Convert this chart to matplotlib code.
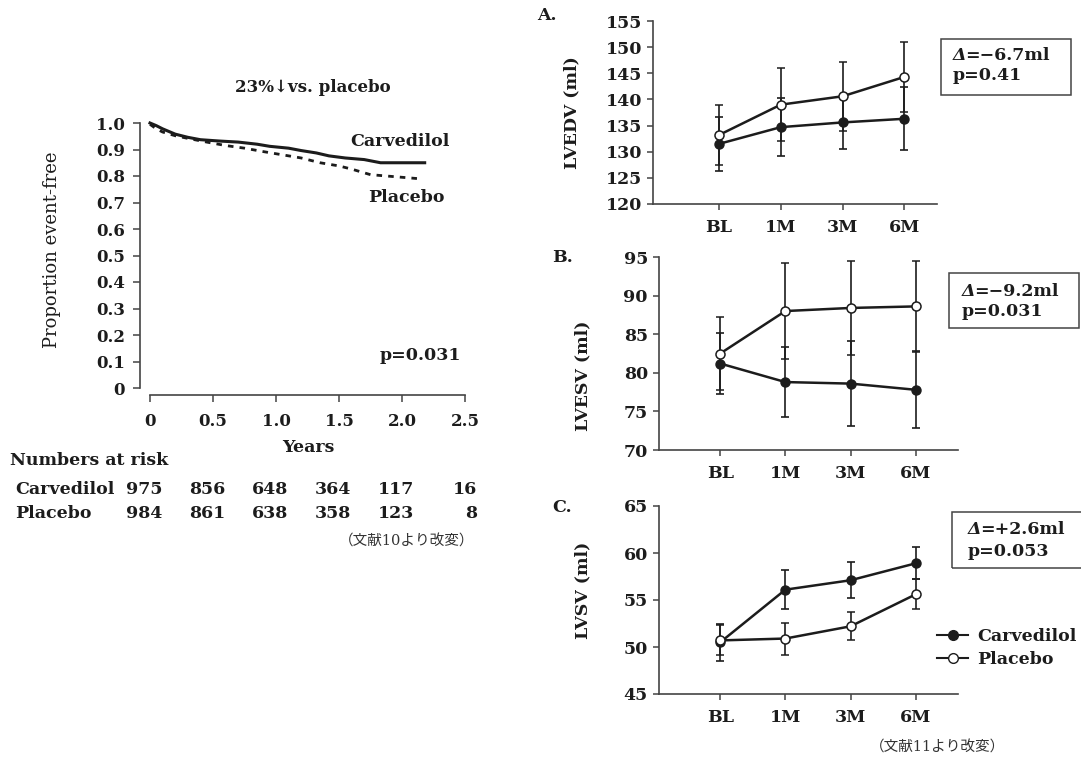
import matplotlib
matplotlib.use('Agg')
import matplotlib.pyplot as plt
from matplotlib.patches import Rectangle
from matplotlib.lines import Line2D

plt.rcParams['font.family'] = ['DejaVu Serif', 'Noto Sans CJK JP']
plt.rcParams['font.weight'] = 'bold'
plt.rcParams['axes.unicode_minus'] = True

W, H = 1081, 757
INK = '#1c1c1c'
AXC = '#444444'

# --- Kaplan-Meier ---
carv_t = [0, 0.05, 0.1, 0.2, 0.3, 0.4, 0.55, 0.7, 0.85, 0.95, 1.1, 1.2, 1.32, 1.42, 1.55, 1.7, 1.83, 2.18]
carv_s = [1.0, 0.99, 0.978, 0.958, 0.946, 0.937, 0.932, 0.928, 0.92, 0.912, 0.905, 0.896, 0.887, 0.876, 0.868, 0.862, 0.85, 0.85]
plac_t = [0, 0.05, 0.1, 0.2, 0.3, 0.45, 0.6, 0.75, 0.9, 1.05, 1.2, 1.35, 1.5, 1.6, 1.75, 2.13]
plac_s = [0.995, 0.978, 0.966, 0.952, 0.942, 0.928, 0.915, 0.905, 0.892, 0.88, 0.868, 0.85, 0.838, 0.826, 0.805, 0.79]

risk_times = [0, 0.5, 1.0, 1.5, 2.0, 2.5]
risk_carv = ['975', '856', '648', '364', '117', '16']
risk_plac = ['984', '861', '638', '358', '123', '8']

# --- echo panels ---
visits = ['BL', '1M', '3M', '6M']
lvedv_carv = [131.5, 134.7, 135.6, 136.3]
lvedv_carv_err = [5.2, 5.6, 5.0, 6.0]
lvedv_plac = [133.2, 139.0, 140.6, 144.3]
lvedv_plac_err = [5.8, 7.0, 6.6, 6.7]

lvesv_carv = [81.2, 78.8, 78.6, 77.8]
lvesv_carv_err = [3.9, 4.5, 5.5, 5.0]
lvesv_plac = [82.5, 88.0, 88.4, 88.6]
lvesv_plac_err = [4.7, 6.2, 6.1, 5.9]

lvsv_carv = [50.5, 56.1, 57.1, 58.9]
lvsv_carv_err = [2.0, 2.1, 1.9, 1.7]
lvsv_plac = [50.7, 50.9, 52.2, 55.6]
lvsv_plac_err = [1.6, 1.7, 1.5, 1.6]


def fx(x):
    return x / W


def fy(y):
    return 1 - y / H


def px_axes(l, t, r, b):
    return fig.add_axes([l / W, 1 - b / H, (r - l) / W, (b - t) / H])


fig = plt.figure(figsize=(W / 100, H / 100), dpi=100)

# ---------------- Kaplan-Meier ----------------
ax = px_axes(150, 123, 465, 388)
ax.plot(carv_t, carv_s, color=INK, lw=2.2, clip_on=False, solid_joinstyle='miter')
ax.plot(plac_t, plac_s, color=INK, lw=2.0, linestyle=(0, (2.0, 2.2)), clip_on=False)
ax.set_xlim(0, 2.5)
ax.set_ylim(0, 1.0)
ax.set_yticks([i / 10 for i in range(11)])
ax.set_yticklabels(['0'] + ['%.1f' % (i / 10) for i in range(1, 11)])
ax.set_xticks(risk_times)
ax.set_xticklabels(['0', '0.5', '1.0', '1.5', '2.0', '2.5'])
for s in ['top', 'right']:
    ax.spines[s].set_visible(False)
ax.spines['left'].set_position(('outward', 7))
ax.spines['bottom'].set_position(('outward', 5))
for s in ['left', 'bottom']:
    ax.spines[s].set_color(AXC)
    ax.spines[s].set_linewidth(1.2)
ax.tick_params(colors=AXC, labelcolor=INK, labelsize=12, length=5, width=1.1)
ax.tick_params(axis='y', pad=6)
ax.tick_params(axis='x', pad=8)

fig.text(fx(313), fy(87), '23%↓vs. placebo', ha='center', va='center', fontsize=12, color=INK)
fig.text(fx(400), fy(142), 'Carvedilol', ha='center', va='center', fontsize=12.5, color=INK)
fig.text(fx(406), fy(197), 'Placebo', ha='center', va='center', fontsize=12.5, color=INK)
fig.text(fx(420), fy(355), 'p=0.031', ha='center', va='center', fontsize=12.5, color=INK)
fig.text(fx(52), fy(250), 'Proportion event-free', rotation=90, ha='center', va='center',
         fontsize=13, color=INK, fontweight='normal')
fig.text(fx(308), fy(447), 'Years', ha='center', va='center', fontsize=12.5, color=INK)

fig.text(fx(10), fy(460), 'Numbers at risk', ha='left', va='center', fontsize=12.5, color=INK)
fig.text(fx(15), fy(490), 'Carvedilol', ha='left', va='center', fontsize=12.5, color=INK)
fig.text(fx(15), fy(513), 'Placebo', ha='left', va='center', fontsize=12.5, color=INK)
for t, c, p in zip(risk_times, risk_carv, risk_plac):
    xr = fx(150 + t / 2.5 * 315 + 12)
    fig.text(xr, fy(490), c, ha='right', va='center', fontsize=12.5, color=INK)
    fig.text(xr, fy(513), p, ha='right', va='center', fontsize=12.5, color=INK)

fig.text(fx(407), fy(542), '（文献10より改変）', ha='center', va='center', fontsize=10.5,
         color='#333333', fontweight='normal')


# ---------------- echo panels ----------------
def panel(box, xlim, ylim, yticks, carv, carv_err, plac, plac_err):
    a = px_axes(*box)
    xs = list(range(len(visits)))
    a.errorbar(xs, carv, yerr=carv_err, color=INK, lw=1.8, elinewidth=1.2, capsize=3,
               capthick=1.2, marker='o', ms=6.5, mfc=INK, mec=INK, zorder=3, clip_on=False)
    a.errorbar(xs, plac, yerr=plac_err, color=INK, lw=1.8, elinewidth=1.2, capsize=3,
               capthick=1.2, marker='o', ms=6.5, mfc='white', mec=INK, mew=1.1, zorder=4,
               clip_on=False)
    a.set_xlim(*xlim)
    a.set_ylim(*ylim)
    a.set_yticks(yticks)
    a.set_xticks(xs)
    a.set_xticklabels(visits)
    for s in ['top', 'right']:
        a.spines[s].set_visible(False)
    for s in ['left', 'bottom']:
        a.spines[s].set_color(AXC)
        a.spines[s].set_linewidth(1.2)
    a.tick_params(colors=AXC, labelcolor=INK, labelsize=12.5, length=4, width=1.1)
    a.tick_params(axis='y', pad=4)
    a.tick_params(axis='x', pad=7)
    return a


ax_a = panel((653, 21, 937, 204), (-1.07, 3.53), (120, 155), range(120, 156, 5),
             lvedv_carv, lvedv_carv_err, lvedv_plac, lvedv_plac_err)
ax_b = panel((659, 257, 958, 450), (-0.94, 3.65), (70, 95), range(70, 96, 5),
             lvesv_carv, lvesv_carv_err, lvesv_plac, lvesv_plac_err)
ax_c = panel((659, 506, 958, 694), (-0.94, 3.65), (45, 65), range(45, 66, 5),
             lvsv_carv, lvsv_carv_err, lvsv_plac, lvsv_plac_err)

fig.text(fx(537), fy(15), 'A.', ha='left', va='center', fontsize=12.5, color=INK)
fig.text(fx(552), fy(257), 'B.', ha='left', va='center', fontsize=12.5, color=INK)
fig.text(fx(552), fy(508), 'C.', ha='left', va='center', fontsize=12.5, color=INK)

fig.text(fx(572), fy(113), 'LVEDV (ml)', rotation=90, ha='center', va='center', fontsize=12.5, color=INK)
fig.text(fx(583), fy(376), 'LVESV (ml)', rotation=90, ha='center', va='center', fontsize=12.5, color=INK)
fig.text(fx(583), fy(590), 'LVSV (ml)', rotation=90, ha='center', va='center', fontsize=12.5, color=INK)

boxes = [
    ((941, 39, 1071, 95), (953, 55, 75), '=−6.7ml', 'p=0.41'),
    ((949, 273, 1079, 328), (962, 292, 312), '=−9.2ml', 'p=0.031'),
    ((952, 512, 1095, 568), (968, 530, 551), '=+2.6ml', 'p=0.053'),
]
for (l, t, r, b), (tx, y1, y2), line1, line2 in boxes:
    fig.patches.append(Rectangle((fx(l), fy(b)), (r - l) / W, (b - t) / H, transform=fig.transFigure,
                                 fill=False, edgecolor=AXC, lw=1.1))
    fig.text(fx(tx), fy(y1), 'Δ', ha='left', va='center', fontsize=12.5, color=INK,
             style='italic')
    fig.text(fx(tx + 12), fy(y1), line1, ha='left', va='center', fontsize=12.5, color=INK)
    fig.text(fx(tx), fy(y2), line2, ha='left', va='center', fontsize=12.5, color=INK)

handles = [
    Line2D([], [], color=INK, lw=1.5, marker='o', ms=7, mfc=INK, mec=INK),
    Line2D([], [], color=INK, lw=1.5, marker='o', ms=7, mfc='white', mec=INK),
]
fig.legend(handles, ['Carvedilol', 'Placebo'], loc='upper left',
           bbox_to_anchor=(fx(937), fy(628)), frameon=False, fontsize=12.5,
           handlelength=1.8, handletextpad=0.5, labelspacing=0.35, borderpad=0,
           borderaxespad=0, labelcolor=INK)

fig.text(fx(938), fy(748), '（文献11より改変）', ha='center', va='center', fontsize=10.5,
         color='#333333', fontweight='normal')

fig.savefig('out.png', dpi=100, facecolor='white')
